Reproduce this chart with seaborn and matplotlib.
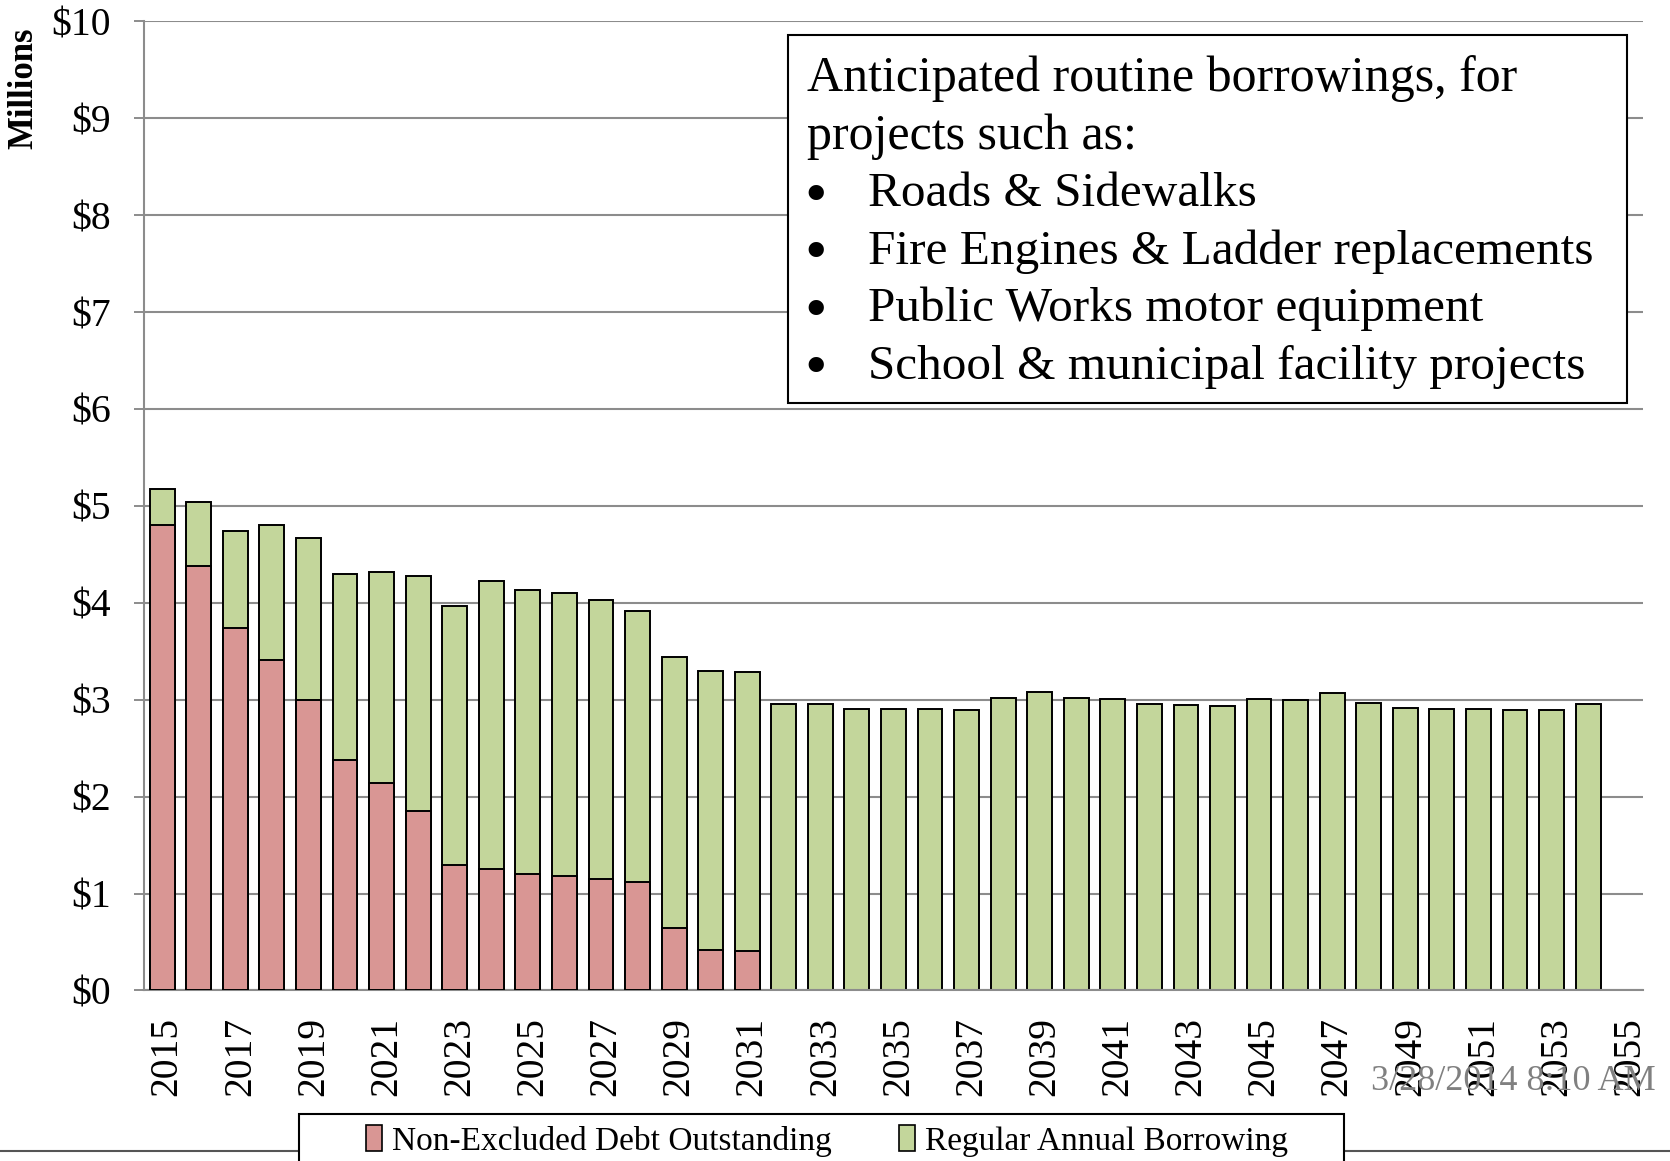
import numpy as np
import pandas as pd
import matplotlib
matplotlib.use("Agg")
import matplotlib.pyplot as plt
import matplotlib.transforms as mtransforms
import seaborn as sns
from matplotlib.patches import Rectangle, Patch
from matplotlib.lines import Line2D
from matplotlib.ticker import FuncFormatter

# ---------------- data (millions of dollars) ----------------
axis_years = [str(y) for y in range(2015, 2056)]          # category slots, 2055 is empty
tick_years = [str(y) for y in range(2015, 2056, 2)]

debt_years = [str(y) for y in range(2015, 2032)]
non_excluded_debt = [4.80, 4.38, 3.74, 3.41, 3.00, 2.38, 2.14, 1.85, 1.29,
                     1.25, 1.20, 1.18, 1.15, 1.12, 0.64, 0.42, 0.41]

borrow_years = [str(y) for y in range(2015, 2055)]
regular_borrowing = [0.37, 0.66, 1.00, 1.39, 1.67, 1.92, 2.18, 2.43, 2.68,
                     2.97, 2.93, 2.92, 2.88, 2.79, 2.80, 2.88, 2.88,
                     2.96, 2.96, 2.90, 2.90, 2.90, 2.89, 3.02, 3.08, 3.02,
                     3.01, 2.96, 2.95, 2.94, 3.01, 3.00, 3.07, 2.97, 2.91,
                     2.90, 2.90, 2.89, 2.89, 2.96]

series_names = ["Non-Excluded Debt Outstanding", "Regular Annual Borrowing"]
note_lines = ["Anticipated routine borrowings, for", "projects such as:"]
note_bullets = ["Roads & Sidewalks", "Fire Engines & Ladder replacements",
                "Public Works motor equipment", "School & municipal facility projects"]
y_label = "Millions"
stamp = "3/28/2014 8:10 AM"

RED = "#D99694"
GREEN = "#C3D69B"
GRID = "#8c8c8c"

# ---------------- frames ----------------
debt = pd.DataFrame({"year": debt_years, "value": non_excluded_debt})
borrow = pd.DataFrame({"year": borrow_years, "value": regular_borrowing})
total = borrow.merge(debt, on="year", how="left", suffixes=("_b", "_d")).fillna(0)
total["total"] = total["value_b"] + total["value_d"]

sns.set_style("white")
plt.rcParams["font.family"] = ["Liberation Serif", "DejaVu Serif"]
plt.rcParams["text.color"] = "black"
plt.rcParams["xtick.labelcolor"] = "black"
plt.rcParams["ytick.labelcolor"] = "black"

fig = plt.figure(figsize=(16.7, 11.61), dpi=100)
ax = fig.add_axes([0.0862, 0.1469, 0.8976, 0.8348])

# stacked bars: total (green) then debt (red) drawn on top
sns.barplot(data=total, x="year", y="total", order=axis_years, color=GREEN,
            saturation=1, edgecolor="black", linewidth=1.4, width=0.68,
            errorbar=None, ax=ax, zorder=2)
sns.barplot(data=debt, x="year", y="value", order=axis_years, color=RED,
            saturation=1, edgecolor="black", linewidth=1.4, width=0.68,
            errorbar=None, ax=ax, zorder=3)

ax.set_xlim(-0.5, len(axis_years) - 0.5)
ax.set_ylim(0, 10)
ax.set_yticks(range(0, 11))
ax.yaxis.set_major_formatter(FuncFormatter(lambda v, p: f"${int(v)}"))
ax.set_xticks([axis_years.index(t) for t in tick_years])
ax.set_xticklabels(tick_years, rotation=90)
ax.set_xticks(np.arange(-0.5, len(axis_years), 1.0), minor=True)
ax.set_xlabel("")
ax.set_ylabel("")

ax.tick_params(axis="x", which="major", length=0, pad=19, labelsize=28.5, labelcolor="black")
ax.tick_params(axis="x", which="minor", length=9, width=1.4, color=GRID, direction="out")
ax.tick_params(axis="y", which="major", length=7, width=1.4, color=GRID,
               direction="out", pad=17, labelsize=28.5, left=True, labelcolor="black")
shift = mtransforms.ScaledTranslation(5 / 100, 0, fig.dpi_scale_trans)
for lbl in ax.get_xticklabels():
    lbl.set_verticalalignment("top")
    lbl.set_transform(lbl.get_transform() + shift)

ax.yaxis.grid(True, color=GRID, linewidth=1.5)
ax.xaxis.grid(False)
ax.set_axisbelow(True)
for s in ["top", "right"]:
    ax.spines[s].set_visible(False)
for s in ["left", "bottom"]:
    ax.spines[s].set_color(GRID)
    ax.spines[s].set_linewidth(1.5)

# y label
fig.text(23.5 / 1670, 1 - 88 / 1161, y_label, rotation=90, fontsize=25,
         fontweight="bold", ha="center", va="center", color="black")

# annotation box
box = Rectangle((788 / 1670, 1 - 403 / 1161), (1627 - 788) / 1670, (403 - 35) / 1161,
                transform=fig.transFigure, facecolor="white", edgecolor="black",
                linewidth=1.5, zorder=5)
fig.add_artist(box)
base0 = 91.5
step = 57.5
for i, line in enumerate(note_lines):
    fig.text(807 / 1670, 1 - (base0 + i * step) / 1161, line, fontsize=36,
             ha="left", va="baseline", zorder=6, color="black")
for j, line in enumerate(note_bullets):
    yb_px = base0 + (j + 2) * step
    fig.text(816 / 1670, 1 - (yb_px + 7) / 1161, "\u2022", fontsize=46, ha="center",
             va="baseline", zorder=6, color="black")
    fig.text(868 / 1670, 1 - yb_px / 1161, line, fontsize=35.5, ha="left", va="baseline",
             zorder=6, color="black")

# bottom rule line and legend frame
fig.add_artist(Line2D([0, 1], [1 - 1151 / 1161] * 2, transform=fig.transFigure,
                      color="#555555", linewidth=1.5, zorder=1))
fig.add_artist(Rectangle((299 / 1670, -0.03), (1344 - 299) / 1670, 0.03 + 1 - 1114 / 1161,
                         transform=fig.transFigure, facecolor="white", edgecolor="black",
                         linewidth=1.5, zorder=2))
handles = [Patch(facecolor=RED, edgecolor="black", linewidth=1.2),
           Patch(facecolor=GREEN, edgecolor="black", linewidth=1.2)]
fig.legend(handles, series_names, loc="center", bbox_to_anchor=(827 / 1670, 1 - 1141 / 1161),
           ncol=2, frameon=False, fontsize=24, handlelength=0.5, handleheight=0.8,
           handletextpad=0.3, columnspacing=2.0, labelcolor="black")

# date stamp
fig.text(1656 / 1670, 1 - 1081 / 1161, stamp, fontsize=26, color="#808080",
         ha="right", va="center", zorder=10)

fig.savefig("out.png", dpi=100)
